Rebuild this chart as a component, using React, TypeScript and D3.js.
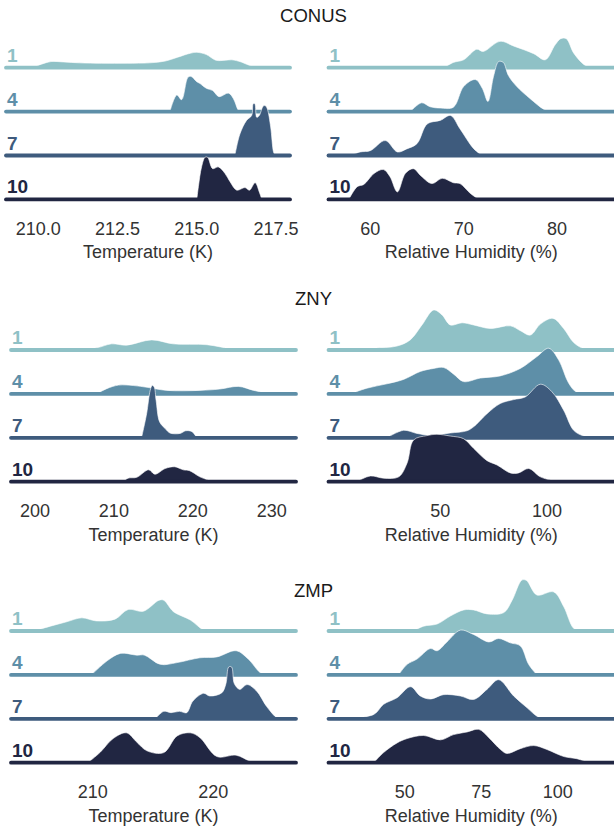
import React from 'react';
import * as d3 from 'd3';

// regions and ridge groups
const regions = ['CONUS', 'ZNY', 'ZMP'];
const ridgeLabels = ['1', '4', '7', '10'];
const ridgeColors = ['#8fc1c6', '#5e8fa8', '#3e5b7d', '#212642'];

// x limits and tick labels per region
const tempLimits = [[208.98, 217.94], [196.96, 233.08], [203.23, 226.86]];
const tempTicks = [[210, 212.5, 215, 217.5], [200, 210, 220, 230], [210, 220]];
const tempTickFormat = ['.1f', 'd', 'd'];
const humLimits = [[55.52, 86.11], [-2.39, 131.4], [25.1, 118.4]];
const humTicks = [[60, 70, 80], [50, 100], [50, 75, 100]];

// density curves: [value, height in % of ridge spacing], ridges 1, 4, 7, 10
const conusTemp = [
  [[209.3, 0], [209.85, 2], [210.1, 8], [210.4, 14], [210.8, 13], [211.3, 11], [212, 10], [212.8, 10], [213.5, 11], [214, 15], [214.4, 24], [214.8, 33], [215, 35], [215.3, 30], [215.6, 17], [215.9, 17], [216.1, 18], [216.4, 13], [216.7, 4], [216.9, 1], [217.2, 0]],
  [[214.15, 0], [214.37, 38], [214.52, 27], [214.72, 78], [214.82, 80], [215.0, 68], [215.1, 64], [215.3, 53], [215.5, 48], [215.7, 34], [216.0, 42], [216.15, 30], [216.3, 4], [216.35, 0]],
  [[216.2, 0], [216.36, 49], [216.57, 80], [216.73, 91], [216.78, 118], [216.83, 118], [216.89, 87], [216.97, 91], [217.1, 113], [217.17, 113], [217.23, 105], [217.33, 65], [217.42, 8], [217.47, 0]],
  [[215.0, 0], [215.05, 29], [215.15, 74], [215.26, 96], [215.34, 96], [215.5, 70], [215.68, 74], [215.89, 59], [216.05, 40], [216.26, 21], [216.52, 27], [216.66, 21], [216.84, 38], [216.97, 17], [217.05, 0]],
];
const znyTemp = [
  [[197, 1], [204, 3], [207.8, 5], [209.7, 14], [211.6, 11], [214.8, 23], [217.5, 14], [221.8, 12], [225.1, 2], [227.6, 0]],
  [[207.8, 0], [209.1, 12], [210.6, 20], [212.5, 19], [214.2, 15], [216.7, 8], [220.9, 8], [223.4, 11], [225.8, 17], [227.7, 8], [229.4, 2], [230.7, 0]],
  [[213.5, 0], [214.15, 55], [214.6, 108], [214.85, 119], [215.1, 116], [215.35, 85], [215.8, 36], [216.5, 21], [217.1, 11], [218.4, 10], [219.1, 16], [219.9, 14], [220.5, 0]],
  [[211.2, 0], [211.8, 8], [212.9, 10], [214.4, 27], [215.2, 17], [216.5, 30], [217.7, 34], [218.8, 27], [219.6, 25], [220.9, 11], [222.6, 0]],
];
const zmpTemp = [
  [[205.1, 0], [206.5, 11], [207.85, 21], [209.1, 30], [210.3, 23], [211.85, 27], [212.95, 49], [214.2, 45], [215.5, 70], [215.9, 70], [216.7, 44], [218.1, 25], [219.2, 2], [219.7, 0]],
  [[209.9, 0], [211.2, 32], [212.3, 49], [213.65, 45], [214.3, 45], [215.6, 24], [217, 28], [218.9, 39], [220.3, 41], [221.9, 55], [222.9, 36], [223.9, 5], [224.4, 0]],
  [[215.2, 0], [215.9, 17], [216.5, 14], [217.2, 17], [217.8, 14], [218.3, 40], [219.2, 58], [219.7, 52], [220.7, 59], [221.05, 80], [221.28, 118], [221.52, 118], [221.75, 80], [222.2, 67], [222.8, 78], [223.6, 63], [224.4, 29], [225.1, 6], [225.4, 0]],
  [[209.6, 0], [210.6, 23], [211.7, 55], [212.8, 68], [213.65, 47], [214.5, 27], [215.9, 23], [217, 61], [218.1, 68], [218.9, 57], [220.3, 14], [221.9, 17], [223, 4], [223.6, 0]],
];

const conusHum = [
  [[67.9, 0], [68.9, 12], [70, 18], [71.4, 42], [72.1, 37], [73.9, 60], [75.4, 49], [77.5, 32], [78.75, 18], [79.8, 52], [80.4, 66], [81, 66], [81.8, 33], [82.9, 7], [83.6, 0]],
  [[64.3, 0], [65.5, 20], [66.4, 11], [67.5, 8], [68.9, 10], [70, 57], [71.25, 73], [72, 53], [72.6, 23], [73.2, 80], [73.75, 114], [74.25, 112], [74.8, 82], [75.7, 57], [77.1, 30], [78.6, 5], [79.3, 0]],
  [[57.9, 0], [58.9, 8], [60, 11], [61.6, 34], [62.9, 8], [63.9, 15], [65, 27], [66.1, 72], [67.5, 80], [68.6, 91], [69.6, 61], [71.1, 15], [72, 0]],
  [[57.7, 0], [58.6, 29], [59.3, 34], [60.4, 59], [61.4, 68], [62.1, 52], [62.9, 17], [63.75, 59], [64.6, 70], [65.5, 52], [66.6, 36], [67.7, 48], [68.9, 38], [69.6, 36], [70.7, 14], [71.6, 0]],
];
const znyHum = [
  [[10.9, 0], [18.75, 4], [29.7, 9], [35.9, 23], [41.4, 57], [46.9, 91], [50.8, 80], [54.7, 57], [60.2, 62], [65.6, 57], [73.4, 49], [82.8, 55], [87.5, 44], [92.2, 34], [96.9, 59], [102.8, 72], [107.8, 49], [112.5, 17], [117.2, 3], [121.9, 0]],
  [[7.8, 0], [15.6, 13], [25, 23], [32.8, 33], [40.6, 51], [46.9, 58], [51.6, 60], [56.25, 45], [60.9, 28], [68.75, 36], [78.1, 41], [87.5, 58], [95.3, 85], [100.8, 104], [105.5, 77], [110.2, 24], [114, 3], [118.7, 0]],
  [[25, 0], [32.8, 17], [39, 10], [45.3, 6], [54.7, 11], [62.5, 16], [65.6, 25], [71.9, 55], [78.1, 78], [84.4, 87], [89.8, 93], [96.9, 122], [102.3, 105], [107.8, 63], [112.5, 17], [117.2, 4], [121.9, 0]],
  [[10.9, 0], [17.2, 13], [23.4, 8], [30.5, 11], [34.4, 42], [37.5, 95], [43.75, 105], [48.4, 108], [54.7, 104], [60.9, 98], [65.6, 76], [71.9, 48], [76.6, 38], [82.8, 20], [86.7, 20], [91.4, 30], [96.9, 11], [103.1, 2], [106, 0]],
];
const zmpHum = [
  [[52.9, 0], [56.2, 11], [60.6, 16], [64.9, 34], [69.3, 48], [72.5, 48], [76.9, 39], [82.4, 42], [85.1, 70], [88.3, 116], [89.8, 115], [93.2, 82], [98.7, 89], [102, 55], [105.2, 6], [107.4, 0]],
  [[48, 0], [50.8, 24], [54, 36], [58.4, 60], [60.6, 55], [63.8, 75], [68.2, 102], [72.5, 92], [77.5, 75], [80.7, 83], [84.5, 73], [87.8, 66], [90.5, 24], [93.2, 0]],
  [[30, 0], [39.9, 10], [43.1, 33], [47.5, 48], [51.9, 73], [55.1, 52], [58.4, 45], [62.7, 55], [68.2, 52], [72.5, 44], [76.9, 67], [80.7, 89], [85.6, 52], [90, 25], [93.2, 6], [95.4, 0]],
  [[39.9, 0], [43.1, 23], [47.5, 45], [50.8, 55], [56.2, 62], [61.7, 52], [66, 64], [70.4, 70], [74.2, 76], [77.5, 57], [81.3, 30], [83.4, 21], [87.8, 32], [92.2, 39], [96.5, 30], [102, 14], [106.3, 9], [109.6, 2], [111.8, 0]],
];

const tempCurves = [conusTemp, znyTemp, zmpTemp];
const humCurves = [conusHum, znyHum, zmpHum];

const font = "'Liberation Sans', Arial, Helvetica, sans-serif";

export default function App() {
  const width = 614;
  const height = 830;
  const gap = 43.9;
  const firstBase = [67.7, 350, 631];
  const titleY = [22.3, 305, 597.3];
  const leftRanges = [[6, 290], [11, 296], [11, 296]];
  const rightRange = [328.5, 614];

  const h = d3.scaleLinear().domain([0, 100]).range([0, gap]);

  const panel = (key, curves, limits, ticks, fmt, range, base0, title) => {
    const x = d3.scaleLinear().domain(limits).range(range);
    const last = base0 + 3 * gap;
    const f = d3.format(fmt);
    return (
      <g key={key}>
        {curves.map((pts, i) => {
          const base = base0 + i * gap;
          const area = d3
            .area()
            .x((d) => x(d[0]))
            .y0(base)
            .y1((d) => Math.min(base, base - h(d[1])))
            .curve(d3.curveCatmullRom.alpha(0.5));
          return (
            <g key={i}>
              <path d={area(pts)} fill={ridgeColors[i]} stroke="#ffffff" strokeWidth={0.6} />
              <line
                x1={range[0]}
                x2={range[1]}
                y1={base}
                y2={base}
                stroke={ridgeColors[i]}
                strokeWidth={3.8}
                strokeLinecap="round"
              />
            </g>
          );
        })}
        {curves.map((pts, i) => (
          <text
            key={'l' + i}
            x={range[0] + 1}
            y={base0 + i * gap - 6}
            fill={ridgeColors[i]}
            fontSize={19}
            fontWeight="bold"
          >
            {ridgeLabels[i]}
          </text>
        ))}
        {ticks.map((t) => (
          <text key={'t' + t} x={x(t)} y={last + 35.5} textAnchor="middle" fontSize={18} fill="#333">
            {f(t)}
          </text>
        ))}
        <text x={(range[0] + range[1]) / 2} y={last + 59} textAnchor="middle" fontSize={18} fill="#333">
          {title}
        </text>
      </g>
    );
  };

  return (
    <svg
      width={width}
      height={height}
      style={{ position: 'absolute', left: 0, top: 0, background: '#fff' }}
      fontFamily={font}
    >
      {regions.map((r, k) => (
        <g key={r}>
          <text x={313.5} y={titleY[k]} textAnchor="middle" fontSize={18.5} fill="#1a1a1a">
            {r}
          </text>
          {panel('t' + k, tempCurves[k], tempLimits[k], tempTicks[k], tempTickFormat[k], leftRanges[k], firstBase[k], 'Temperature (K)')}
          {panel('h' + k, humCurves[k], humLimits[k], humTicks[k], 'd', rightRange, firstBase[k], 'Relative Humidity (%)')}
        </g>
      ))}
    </svg>
  );
}
